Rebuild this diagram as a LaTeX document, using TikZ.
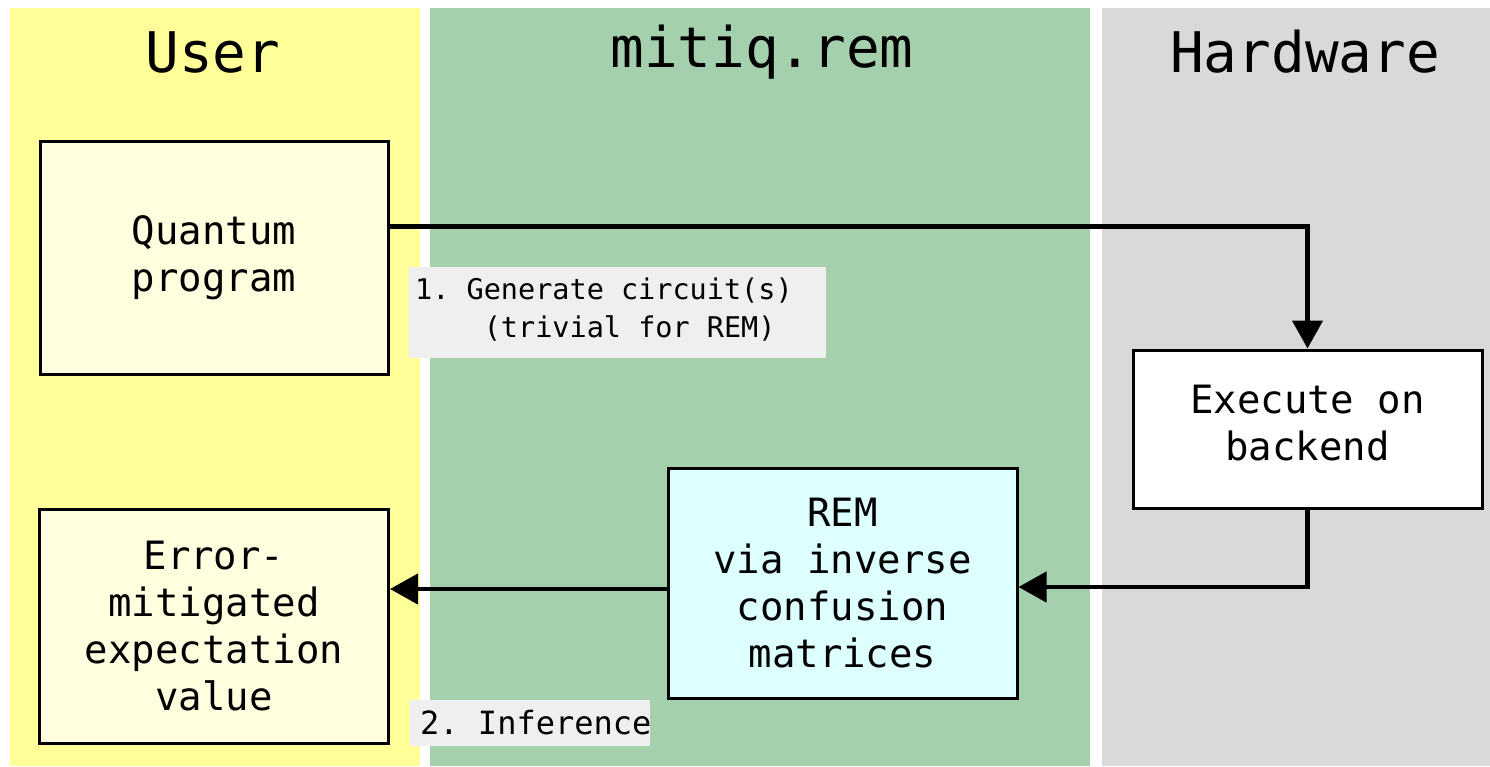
\documentclass[tikz,border=0pt]{standalone}
\usepackage{fontspec}
\setmonofont{DejaVu Sans Mono}
\usetikzlibrary{calc,arrows.meta}
\definecolor{laneyellow}{HTML}{FFFF99}
\definecolor{lanegreen}{HTML}{A4D0AD}
\definecolor{lanegray}{HTML}{D9D9D9}
\definecolor{boxyellow}{HTML}{FFFFE0}
\definecolor{boxcyan}{HTML}{DDFFFF}
\definecolor{labelgray}{HTML}{EFEFEF}
\tikzset{
  lane/.style={rectangle, draw=none, inner sep=0pt, anchor=north west},
  header/.style={font=\fontsize{56}{60}\selectfont\ttfamily, inner sep=0pt},
  procbox/.style={rectangle, draw=black, line width=3pt, inner sep=0pt, align=center,
    font=\fontsize{39}{47}\selectfont\ttfamily},
  steplabel/.style={rectangle, fill=labelgray, inner sep=0pt, align=left, anchor=north west},
  flow/.style={line width=4.5pt, -{Triangle[length=28pt,width=30pt]}},
}
\begin{document}
\begin{tikzpicture}[x=1pt,y=-1pt]
\useasboundingbox (0,0) rectangle (1490,766);
\fill[white] (0,0) rectangle (1490,766);
% lanes
\node[lane, fill=laneyellow, minimum width=410pt, minimum height=758pt] (laneU) at (10,8) {};
\node[lane, fill=lanegreen, minimum width=660pt, minimum height=758pt] (laneM) at (430,8) {};
\node[lane, fill=lanegray, minimum width=388pt, minimum height=758pt] (laneH) at (1102,8) {};
% headers
\node[header] (hU) at (213,52) {User};
\node[header] (hM) at (762,52) {mitiq.rem};
\node[header] (hH) at (1305,52) {Hardware};
% boxes
\node[procbox, fill=boxyellow, minimum width=348pt, minimum height=233pt] (qp) at (214,257.5) {Quantum\\program};
\node[procbox, fill=boxyellow, minimum width=349pt, minimum height=234pt] (err) at (214,626) {Error-\\mitigated\\expectation\\value};
\node[procbox, fill=boxcyan, minimum width=349pt, minimum height=230pt] (rem) at (842.5,583) {REM\\via inverse\\confusion\\matrices};
\node[procbox, fill=white, minimum width=349pt, minimum height=158pt] (exe) at (1307.5,429) {};
\node[inner sep=0pt, align=center, font=\fontsize{39}{47}\selectfont\ttfamily] (exet) at (1307.5,423) {Execute on\\backend};
% step labels
\node[steplabel, minimum width=417pt, minimum height=91pt] (lab1) at (409,267) {};
\node[anchor=west, inner sep=0pt, align=left, font=\fontsize{28.5}{38}\selectfont\ttfamily] (lab1t) at (415,310) {1. Generate circuit(s)\\\phantom{xxxx}(trivial for REM)};
\node[steplabel, minimum width=240pt, minimum height=46pt] (lab2) at (410,700) {};
\node[anchor=west, inner sep=0pt, font=\fontsize{32}{36}\selectfont\ttfamily] (lab2t) at (420,723) {2. Inference};
% connectors
\draw[flow] ($(qp.east)+(0,-31)$) -| (exe.north);
\draw[flow] (exe.south) |- ($(rem.east)+(0,4)$);
\draw[flow] ($(rem.west)+(0,6)$) -- ($(err.east)+(0,-37)$);
\end{tikzpicture}
\end{document}
